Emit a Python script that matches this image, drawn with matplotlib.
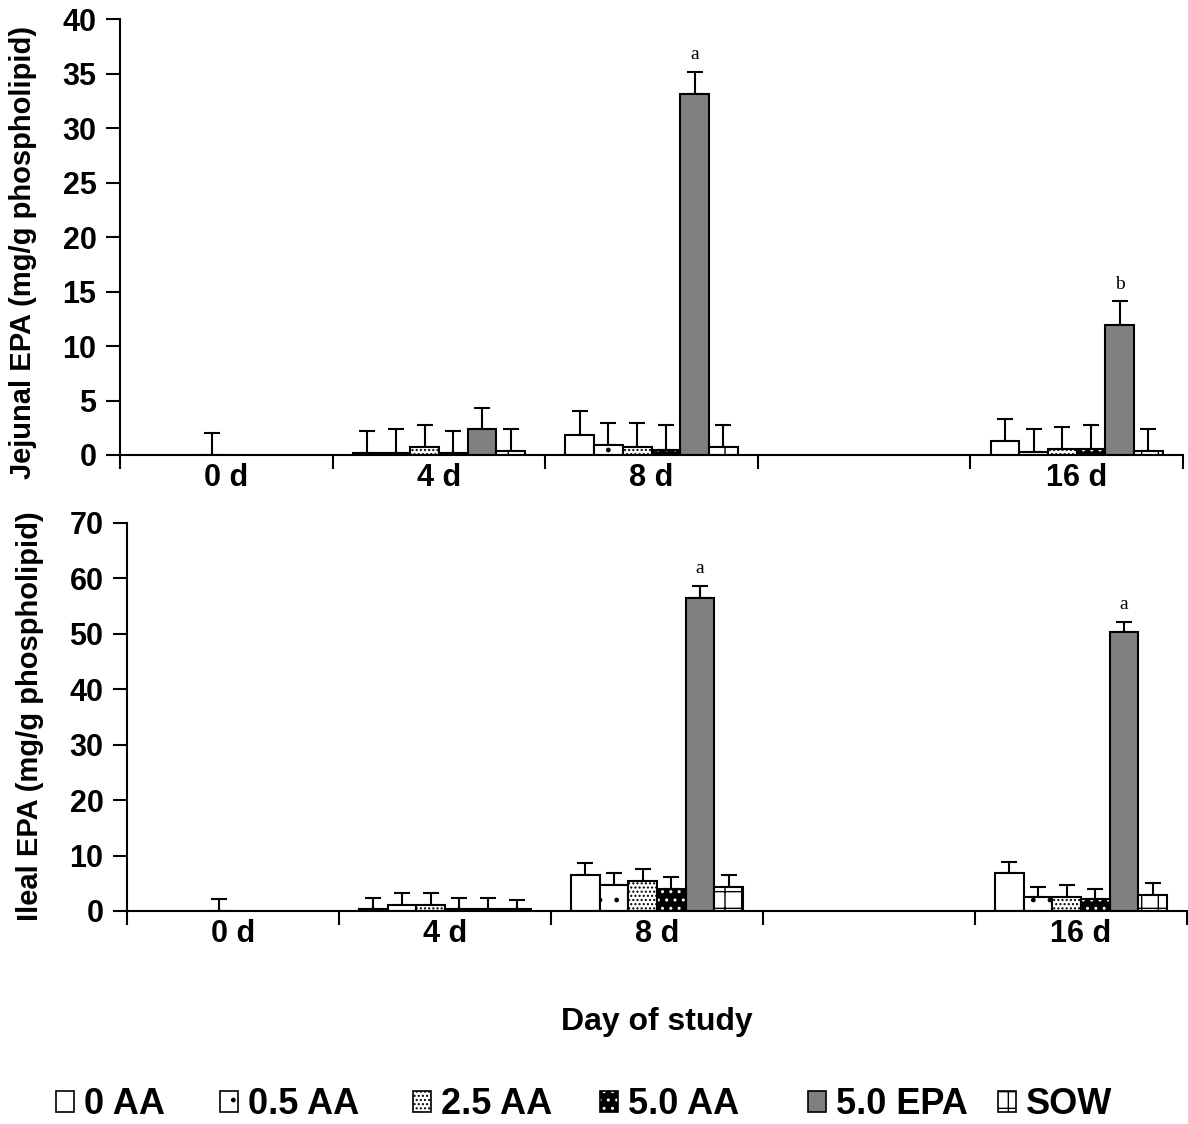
import numpy as np
import matplotlib
matplotlib.use('Agg')
import matplotlib.pyplot as plt
from matplotlib.patches import Patch
from matplotlib.legend_handler import HandlerTuple

nan = np.nan

# ---------------- data ----------------
days = ['0 d', '4 d', '8 d', '', '16 d']
series = ['0 AA', '0.5 AA', '2.5 AA', '5.0 AA', '5.0 EPA', 'SOW']

# Jejunal EPA (mg/g phospholipid)
jej_0aa = [nan, 0.15, 1.8, nan, 1.3]
jej_05aa = [nan, 0.15, 0.9, nan, 0.3]
jej_25aa = [0.0, 0.7, 0.7, nan, 0.55]
jej_50aa = [nan, 0.15, 0.5, nan, 0.55]
jej_epa = [nan, 2.35, 33.2, nan, 11.9]
jej_sow = [nan, 0.35, 0.7, nan, 0.35]

jej_0aa_err = [nan, 2.05, 2.25, nan, 2.0]
jej_05aa_err = [nan, 2.2, 2.0, nan, 2.05]
jej_25aa_err = [2.0, 2.05, 2.2, nan, 2.05]
jej_50aa_err = [nan, 2.05, 2.25, nan, 2.2]
jej_epa_err = [nan, 2.0, 2.0, nan, 2.25]
jej_sow_err = [nan, 2.0, 2.05, nan, 2.0]

jej_letters = [(4, 2, 'a'), (4, 4, 'b')]   # (series index, day index, letter)

# Ileal EPA (mg/g phospholipid)
ile_0aa = [nan, 0.3, 6.5, nan, 6.8]
ile_05aa = [nan, 1.0, 4.7, nan, 2.45]
ile_25aa = [0.0, 1.0, 5.4, nan, 2.45]
ile_50aa = [nan, 0.3, 4.0, nan, 2.15]
ile_epa = [nan, 0.3, 56.5, nan, 50.4]
ile_sow = [nan, 0.3, 4.3, nan, 2.9]

ile_0aa_err = [nan, 2.05, 2.1, nan, 2.1]
ile_05aa_err = [nan, 2.2, 2.1, nan, 1.85]
ile_25aa_err = [2.1, 2.2, 2.1, nan, 2.25]
ile_50aa_err = [nan, 2.05, 2.1, nan, 1.8]
ile_epa_err = [nan, 2.05, 2.2, nan, 1.8]
ile_sow_err = [nan, 1.7, 2.2, nan, 2.1]

ile_letters = [(4, 2, 'a'), (4, 4, 'a')]

jej_vals = [jej_0aa, jej_05aa, jej_25aa, jej_50aa, jej_epa, jej_sow]
jej_errs = [jej_0aa_err, jej_05aa_err, jej_25aa_err, jej_50aa_err, jej_epa_err, jej_sow_err]
ile_vals = [ile_0aa, ile_05aa, ile_25aa, ile_50aa, ile_epa, ile_sow]
ile_errs = [ile_0aa_err, ile_05aa_err, ile_25aa_err, ile_50aa_err, ile_epa_err, ile_sow_err]

# ---------------- style ----------------
plt.rcParams['font.family'] = ['Liberation Sans', 'DejaVu Sans']
plt.rcParams['font.weight'] = 'bold'
plt.rcParams['hatch.linewidth'] = 1.0

styles = [
    dict(facecolor='white', hatch=None),
    dict(facecolor='white', hatch='.'),
    dict(facecolor='white', hatch='....'),
    dict(facecolor='black', hatch='..', inverse=True),
    dict(facecolor='#808080', hatch=None),
    dict(facecolor='white', hatch='+'),
]

W = 1188
H = 1124
fig = plt.figure(figsize=(W / 100, H / 100), dpi=100)

LW = 1.5
bw = 0.135
TICK_FS = 22


def px_axes(l, r, b, t):
    return fig.add_axes([l / W, 1 - b / H, (r - l) / W, (b - t) / H])


def draw_panel(ax, vals, errs, ymax, ystep, ylabel, letters, label_xy):
    centers = np.arange(len(days)) + 0.5
    for j, (v, e, st) in enumerate(zip(vals, errs, styles)):
        x = centers + (j - 2.5) * bw
        v = np.array(v, dtype=float)
        e = np.array(e, dtype=float)
        if st.get('inverse'):
            ax.bar(x, v, bw, color=st['facecolor'], edgecolor='white',
                   hatch=st['hatch'], linewidth=0, zorder=2)
            ax.bar(x, v, bw, fill=False, edgecolor='black', linewidth=LW, zorder=3)
        else:
            ax.bar(x, v, bw, color=st['facecolor'], edgecolor='black',
                   hatch=st['hatch'], linewidth=LW, zorder=2)
        ax.errorbar(x, v, yerr=[np.zeros_like(e), e], fmt='none', ecolor='black',
                    elinewidth=LW, capsize=6, capthick=LW, zorder=1)
    for (j, i, letter) in letters:
        xx = centers[i] + (j - 2.5) * bw
        yy = vals[j][i] + errs[j][i]
        ax.annotate(letter, (xx, yy), xytext=(0, 6), textcoords='offset points',
                    ha='center', va='bottom', fontsize=14, fontweight='normal',
                    family=['Liberation Serif', 'DejaVu Serif'])
    ax.set_xlim(0, len(days))
    ax.set_ylim(0, ymax)
    ax.set_yticks(np.arange(0, ymax + 0.1, ystep))
    ax.set_xticks(np.arange(0, len(days) + 1))
    ax.set_xticklabels([])
    ax.set_xticks(centers, minor=True)
    ax.set_xticklabels(days, minor=True)
    ax.tick_params(axis='x', which='major', direction='out', length=10, width=LW)
    ax.tick_params(axis='x', which='minor', length=0, pad=6, labelsize=TICK_FS)
    ax.tick_params(axis='y', direction='out', length=10, width=LW, labelsize=TICK_FS, pad=7)
    for s in ['top', 'right']:
        ax.spines[s].set_visible(False)
    for s in ['left', 'bottom']:
        ax.spines[s].set_linewidth(LW)
    ax.set_ylabel(ylabel, fontsize=21, fontweight='bold')
    ax.yaxis.set_label_coords(*label_xy)
    for lab in ax.get_yticklabels() + ax.get_xticklabels(minor=True):
        lab.set_fontweight('bold')


ax1 = px_axes(120, 1183, 455, 19.5)
draw_panel(ax1, jej_vals, jej_errs, 40, 5, 'Jejunal EPA (mg/g phospholipid)',
           jej_letters, (-0.078, 0.466))

ax2 = px_axes(127, 1187, 911, 523)
draw_panel(ax2, ile_vals, ile_errs, 70, 10, 'Ileal EPA (mg/g phospholipid)',
           ile_letters, (-0.078, 0.503))

fig.text(657 / W, 1 - 1022 / H, 'Day of study', ha='center', va='center',
         fontsize=23, fontweight='bold')

# legend: one entry per slot, positioned like the reference
legend_x = [56, 220, 413, 600, 808, 998]
for st, name, lx in zip(styles, series, legend_x):
    if st.get('inverse'):
        h = (Patch(facecolor='black', edgecolor='white', hatch=st['hatch'], linewidth=0),
             Patch(fill=False, edgecolor='black', linewidth=1.2))
    else:
        h = Patch(facecolor=st['facecolor'], edgecolor='black',
                  hatch=st['hatch'], linewidth=1.2)
    fig.legend([h], [name], loc='center left', bbox_to_anchor=(lx / W, 1 - 1105 / H),
               frameon=False, prop={'weight': 'bold', 'size': 26},
               handlelength=0.5, handleheight=0.5, handletextpad=0.28,
               borderpad=0, borderaxespad=0,
               handler_map={tuple: HandlerTuple(ndivide=1, pad=0)})

fig.savefig('out.png', dpi=100)
